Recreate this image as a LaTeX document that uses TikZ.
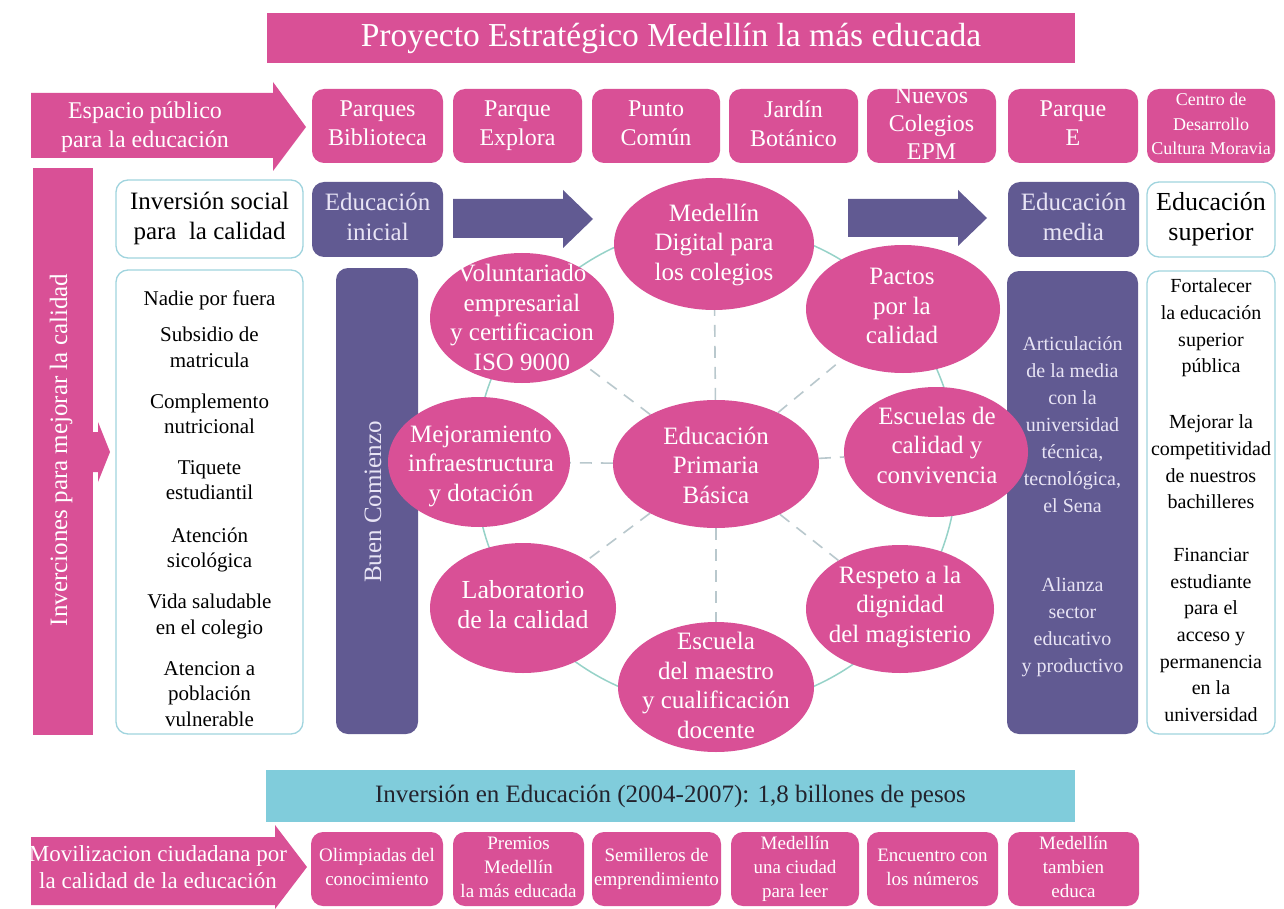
\documentclass[tikz,border=0pt]{standalone}
\usepackage{fontspec}
\setmainfont{Liberation Serif}
\usetikzlibrary{shapes.geometric}
\definecolor{pk}{RGB}{217,80,150}
\definecolor{pu}{RGB}{97,90,146}
\definecolor{lav}{RGB}{232,228,245}
\definecolor{cy}{RGB}{128,204,219}
\definecolor{bd}{RGB}{160,212,222}
\definecolor{ringc}{RGB}{150,210,200}
\definecolor{spk}{RGB}{185,200,205}
\definecolor{dk}{RGB}{35,35,45}
\newcommand\fsz[2]{\fontsize{#1}{#2}\selectfont}
\newcommand\mystrut{\rule[-0.22em]{0pt}{1.32em}}
\pgfdeclarelayer{bg}\pgfdeclarelayer{lines}\pgfsetlayers{bg,lines,main}
\begin{document}
\begin{tikzpicture}[x=1pt,y=-1pt,
  st/.style={execute at begin node=\mystrut, execute at end node=\mystrut},
  pbox/.style={st, fill=pk, rounded corners=12pt, text=white, align=center, inner sep=0pt},
  ubox/.style={st, fill=pu, rounded corners=12pt, text=lav, align=center, inner sep=0pt},
  wbox/.style={st, fill=white, draw=bd, line width=1.3pt, rounded corners=12pt, align=center, inner sep=0pt},
  ell/.style={ellipse, fill=pk, inner sep=0pt},
  etxt/.style={st, text=white, align=center, inner sep=0pt, font=\fsz{25}{29.5}},
  lbl/.style={st, align=center, inner sep=0pt},
  spoke/.style={draw=spk, line width=1.6pt, dash pattern=on 12pt off 9pt},
]
\useasboundingbox (0,0) rectangle (1284,909);
\begin{pgfonlayer}{bg}
  \fill[white] (0,0) rectangle (1284,909);
\end{pgfonlayer}

% title
\node[fill=pk, text=white, inner sep=0pt, minimum width=808pt, minimum height=50pt, font=\fsz{33.5}{36}] (title) at (671,38) {Proyecto Estratégico Medellín la más educada};

% espacio publico arrow
\fill[pk] (31,93) -- (273,93) -- (273,82) -- (306,127) -- (273,171) -- (273,158) -- (31,158) -- cycle;
\node[lbl, text=white, font=\fsz{24}{29}] (esp) at (145,127) {Espacio público\\para la educación};

% row 2 boxes
\begin{scope}[every node/.style={minimum height=74pt, font=\fsz{24}{29}}]
\node[pbox, minimum width=131pt] (pb) at (377.5,126) {Parques\\Biblioteca};
\node[pbox, minimum width=129pt] (pe) at (517.5,126) {Parque\\Explora};
\node[pbox, minimum width=128pt] (pc) at (656,126) {Punto\\Común};
\node[pbox, minimum width=129pt] (jb) at (793.5,126) {Jardín\\Botánico};
\node[pbox, minimum width=129pt] (nc) at (931.5,126) {};
\node[pbox, minimum width=130pt] (pq) at (1073,126) {Parque\\E};
\node[pbox, minimum width=128pt] (cd) at (1211,126) {};
\end{scope}
\node[lbl, text=white, font=\fsz{24}{28}] (nct) at (nc) {Nuevos\\Colegios\\EPM};
\node[lbl, text=white, font=\fsz{18}{24.5}] (cdt) at (cd) {Centro de\\Desarrollo\\Cultura Moravia};

% left vertical bar
\fill[pk] (33,168) rectangle (93,735);
\fill[pk] (93,432) -- (98,432) -- (98,422) -- (110,452) -- (98,482) -- (98,472) -- (93,472) -- cycle;
\node[rotate=90, text=white, inner sep=0pt, font=\fsz{25}{30}] (inv) at (61,450) {Inverciones para mejorar la calidad};

% inversion social
\node[wbox, minimum width=187pt, minimum height=78pt, font=\fsz{25}{30}] (isc) at (209.5,219) {Inversión social\\para~ la calidad};
\node[wbox, minimum width=187pt, minimum height=464pt] (lst) at (209.5,502) {};
\begin{scope}[every node/.style={lbl, font=\fsz{21}{25.5}}]
\node (l1) at (209.5,296) {Nadie por fuera};
\node (l2) at (209.5,349.5) {Subsidio de\\matricula};
\node (l3) at (209.5,416) {Complemento\\nutricional};
\node (l4) at (209.5,482.5) {Tiquete\\estudiantil};
\node (l5) at (209.5,550) {Atención\\sicológica};
\node (l6) at (209.5,616.5) {Vida saludable\\en el colegio};
\node (l7) at (209.5,696) {Atencion a\\población\\vulnerable};
\end{scope}

% educacion inicial
\node[ubox, minimum width=131pt, minimum height=75pt, font=\fsz{25}{30}] (ei) at (377.5,219.5) {Educación\\inicial};
\node[ubox, minimum width=82pt, minimum height=466pt] (bc) at (377,501) {};
\node[rotate=90, text=lav, inner sep=0pt, font=\fsz{25}{30}] (bct) at (373,502) {Buen Comienzo};

% purple arrows
\fill[pu] (453,199) -- (563,199) -- (563,190) -- (593,219) -- (563,248) -- (563,238) -- (453,238) -- cycle;
\fill[pu] (848,199) -- (958,199) -- (958,190) -- (987,218) -- (958,246) -- (958,237) -- (848,237) -- cycle;

% educacion media / superior
\node[ubox, minimum width=131pt, minimum height=75pt, font=\fsz{25}{30}] (em) at (1073.5,219.5) {Educación\\media};
\node[wbox, minimum width=128pt, minimum height=75pt, font=\fsz{26}{30}] (es) at (1211,219.5) {Educación\\superior};
\node[ubox, minimum width=131pt, minimum height=463pt] (art) at (1072.5,502.5) {};
\node[lbl, text=lav, font=\fsz{20}{27}] (art1) at (1072.5,427) {Articulación\\de la media\\con la\\universidad\\técnica,\\tecnológica,\\el Sena};
\node[lbl, text=lav, font=\fsz{20}{27}] (art2) at (1072.5,627) {Alianza\\sector\\educativo\\y productivo};
\node[wbox, minimum width=128pt, minimum height=463pt] (sup) at (1211,502.5) {};
\begin{scope}[every node/.style={lbl, font=\fsz{20}{26.7}}]
\node (s1) at (1211,328) {Fortalecer\\la educación\\superior\\pública};
\node (s2) at (1211,464) {Mejorar la\\competitividad\\de nuestros\\bachilleres};
\node (s3) at (1211,637) {Financiar\\estudiante\\para el\\acceso y\\permanencia\\en la\\universidad};
\end{scope}

% ellipses
\node[ell, minimum width=206pt, minimum height=128pt] (cen) at (716,464) {};
\node[ell, minimum width=200pt, minimum height=132pt] (m1) at (714,244) {};
\node[ell, minimum width=194pt, minimum height=128pt] (pac) at (903,309) {};
\node[ell, minimum width=184pt, minimum height=130pt] (esc) at (936,452) {};
\node[ell, minimum width=188pt, minimum height=128pt] (res) at (900,609) {};
\node[ell, minimum width=196pt, minimum height=130pt] (mae) at (716,687) {};
\node[ell, minimum width=186pt, minimum height=130pt] (lab) at (523,608) {};
\node[ell, minimum width=182pt, minimum height=130pt] (mej) at (479,462) {};
\node[ell, minimum width=184pt, minimum height=130pt] (vol) at (522,318) {};

\node[etxt] (cent) at (716,468) {Educación\\Primaria\\Básica};
\node[etxt] (m1t) at (714,245) {Medellín\\Digital para\\los colegios};
\node[etxt] (pact) at (902,309) {Pactos\\por la\\calidad};
\node[etxt] (esct) at (937,448) {Escuelas de\\calidad y\\convivencia};
\node[etxt] (rest) at (900,607) {Respeto a la\\dignidad\\del magisterio};
\node[etxt] (maet) at (716,688) {Escuela\\del maestro\\y cualificación\\docente};
\node[etxt, font=\fsz{26}{29.5}] (labt) at (523,607.5) {Laboratorio\\de la calidad};
\node[etxt] (mejt) at (481,466) {Mejoramiento\\infraestructura\\y dotación};
\node[etxt] (volt) at (522,320) {Voluntariado\\empresarial\\y certificacion\\ISO 9000};

% ring and spokes
\begin{pgfonlayer}{lines}
  \node[circle, draw=ringc, line width=1.5pt, minimum size=482pt, inner sep=0pt] (ring) at (716,466) {};
  \foreach \n in {m1,pac,esc,res,mae,lab,mej,vol}
    \draw[spoke] (cen) -- (\n);
\end{pgfonlayer}

% bottom cyan bar
\node[fill=cy, text=dk, inner sep=0pt, minimum width=809pt, minimum height=52pt, font=\fsz{25}{30}] (inv2) at (670.5,796) {Inversión en Educación (2004-2007): 1,8 billones de pesos};

% bottom arrow
\fill[pk] (31,837) -- (275,837) -- (275,825) -- (307,867) -- (275,909) -- (275,905) -- (31,905) -- cycle;
\node[lbl, text=white, font=\fsz{23}{27}] (mov) at (158,870) {Movilizacion ciudadana por\\la calidad de la educación};

\begin{scope}[every node/.style={minimum height=74pt, font=\fsz{19}{24}}]
\node[pbox, minimum width=132pt] (ol) at (377,869) {Olimpiadas del\\conocimiento};
\node[pbox, minimum width=131pt] (pr) at (518.5,869) {Premios\\Medellín\\la más educada};
\node[pbox, minimum width=129pt] (se) at (656.5,869) {Semilleros de\\emprendimiento};
\node[pbox, minimum width=128pt] (mu) at (795,869) {Medellín\\una ciudad\\para leer};
\node[pbox, minimum width=131pt] (en) at (932.5,869) {Encuentro con\\los números};
\node[pbox, minimum width=131pt] (mt) at (1073.5,869) {Medellín\\tambien\\educa};
\end{scope}
\end{tikzpicture}
\end{document}
